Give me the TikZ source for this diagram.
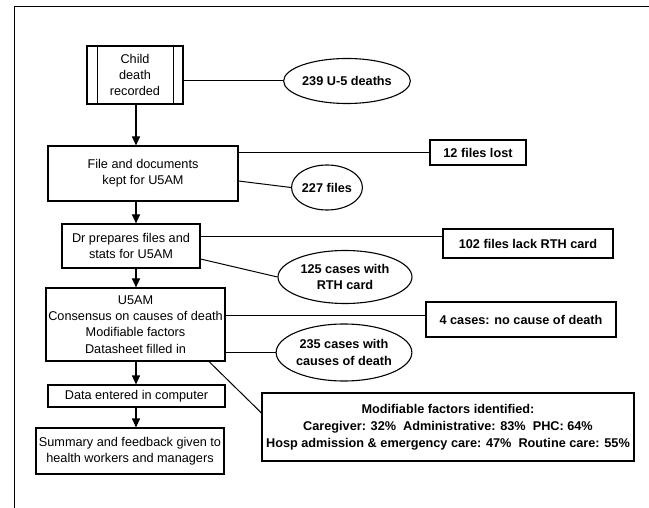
\documentclass[tikz,border=0pt]{standalone}
\usepackage{fontspec}
\setmainfont{Liberation Sans}
\usetikzlibrary{arrows.meta,shapes.geometric}
\begin{document}
\begin{tikzpicture}[x=1pt,y=-1pt,
  every node/.style={font=\fontsize{12.7}{16.3}\selectfont, align=center, inner sep=0pt},
  box/.style={draw, line width=1.1pt, rectangle},
  bbox/.style={draw, line width=1.1pt, rectangle, font=\fontsize{12.7}{16.8}\selectfont\bfseries},
  oval/.style={draw, line width=1.1pt, ellipse, font=\fontsize{12.7}{16.3}\selectfont\bfseries},
  link/.style={line width=1pt},
  arr/.style={line width=1.1pt, -{Triangle[length=9pt,width=8pt]}}
]
\useasboundingbox (0,0) rectangle (649,508);
\draw[line width=1pt] (14,508) -- (14,7) -- (649,7);
\coordinate (sp) at (136,0);

% main column
\node[box, minimum width=96pt, minimum height=58pt] (child) at (135,75) {Child\\death\\recorded};
\draw[line width=1.1pt] ([xshift=11pt]child.north west) -- ([xshift=11pt]child.south west);
\draw[line width=1.1pt] ([xshift=-10pt]child.north east) -- ([xshift=-10pt]child.south east);
\node[box, minimum width=190pt, minimum height=55pt] (file) at (143,173.5) {File and documents\\kept for U5AM};
\node[box, minimum width=138pt, minimum height=44pt] (dr) at (131,246) {Dr prepares files and\\stats for U5AM};
\node[box, minimum width=179pt, minimum height=73pt] (u5am) at (135.5,324.5) {U5AM\\Consensus on causes of death\\Modifiable factors\\Datasheet filled in};
\node[box, minimum width=177pt, minimum height=22pt] (data) at (136.5,396) {Data entered in computer};
\node[box, minimum width=188pt, minimum height=46pt] (summ) at (130,451) {Summary and feedback given to\\health workers and managers};

% side nodes
\node[oval, minimum width=123pt, minimum height=45pt] (e239) at (347,81) {239 U-5 deaths};
\node[bbox, minimum width=96pt, minimum height=25pt] (lost) at (478,152.5) {12 files lost};
\node[oval, minimum width=62pt, minimum height=45pt] (e227) at (327,187.5) {227 files};
\node[bbox, minimum width=170pt, minimum height=29pt] (lack) at (528,243.5) {102 files lack RTH card};
\node[oval, minimum width=134pt, minimum height=53pt] (e125) at (345,277) {125 cases with\\RTH card};
\node[bbox, minimum width=190pt, minimum height=35pt] (nocause) at (521,319.5) {4 cases: no cause of death};
\node[oval, minimum width=132pt, minimum height=57pt] (e235) at (344,352.5) {235 cases with\\causes of death};
\node[bbox, minimum width=372pt, minimum height=68pt] (mod) at (448,427) {Modifiable factors identified:\\Caregiver: 32\%\ \ Administrative: 83\%\ \ PHC: 64\%\\Hosp admission \& emergency care: 47\%\ \ Routine care: 55\%};

% arrows
\draw[arr] (child.south -| sp) -- (file.north -| sp);
\draw[arr] (file.south -| sp) -- (dr.north -| sp);
\draw[arr] (dr.south -| sp) -- (u5am.north -| sp);
\draw[arr] (u5am.south -| sp) -- (data.north -| sp);
\draw[arr] (data.south -| sp) -- (summ.north -| sp);

% links
\draw[link] (child.east |- e239.west) -- (e239.west);
\draw[link] (file.east |- lost.west) -- (lost.west);
\draw[link] ([yshift=-7.5pt]file.east) -- (e227.west);
\coordinate (a1) at ([yshift=6.5pt]lack.west);
\draw[link] (dr.east |- a1) -- (a1);
\draw[link] ([yshift=-13pt]dr.east) -- (e125.west);
\coordinate (a2) at ([yshift=3.5pt]nocause.west);
\draw[link] (u5am.east |- a2) -- (a2);
\draw[link] (u5am.east |- e235.west) -- (e235.west);
\draw[link] ([xshift=73.5pt]u5am.south) -- ([yshift=14pt]mod.west);
\end{tikzpicture}
\end{document}
